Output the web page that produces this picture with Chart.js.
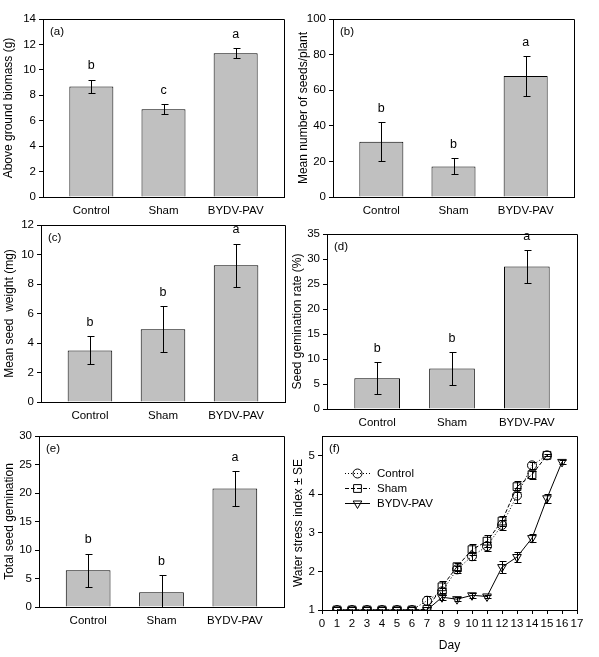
<!DOCTYPE html>
<html>
<head>
<meta charset="utf-8">
<script src="https://cdn.jsdelivr.net/npm/chart.js@4.4.0/dist/chart.umd.min.js"></script>
<style>
  body { margin: 0; background: #fff; width: 599px; height: 657px; position: relative; overflow: hidden; }
  canvas { position: absolute; }
</style>
</head>
<body>
<script>
// treatment groups
const groups = ["Control", "Sham", "BYDV-PAV"];

// (a) above ground biomass
const biomass = [8.7, 6.9, 11.3];
const biomassErr = [0.5, 0.4, 0.4];
const biomassLetters = ["b", "c", "a"];

// (b) seeds per plant
const seeds = [31, 17.2, 68];
const seedsErr = [11, 4.5, 11];
const seedsLetters = ["b", "b", "a"];

// (c) mean seed weight
const seedWeight = [3.5, 4.93, 9.27];
const seedWeightErr = [0.95, 1.57, 1.46];
const seedWeightLetters = ["b", "b", "a"];

// (d) germination rate
const germRate = [6.15, 8.1, 28.5];
const germRateErr = [3.2, 3.25, 3.25];
const germRateLetters = ["b", "b", "a"];

// (e) total germination
const germTotal = [6.45, 2.6, 20.8];
const germTotalErr = [2.9, 3.0, 3.0];
const germTotalLetters = ["b", "b", "a"];

// (f) water stress index by day
const days = [1, 2, 3, 4, 5, 6, 7, 8, 9, 10, 11, 12, 13, 14, 15, 16];
const controlWSI = [1, 1, 1, 1, 1, 1, 1.24, 1.48, 2.05, 2.39, 2.65, 3.2, 3.96, 4.74, 5.0];
const controlSE = [0, 0, 0, 0, 0, 0, 0.12, 0.1, 0.1, 0.1, 0.12, 0.12, 0.2, 0.1, 0];
const shamWSI = [1, 1, 1, 1, 1, 1, 1.02, 1.6, 2.12, 2.56, 2.78, 3.3, 4.19, 4.5, 5.0];
const shamSE = [0, 0, 0, 0, 0, 0, 0.05, 0.15, 0.1, 0.15, 0.15, 0.12, 0.15, 0.1, 0.03];
const bydvWSI = [1, 1, 1, 1, 1, 1, 1, 1.33, 1.28, 1.38, 1.35, 2.11, 2.37, 2.86, 3.89, 4.83];
const bydvSE = [0, 0, 0, 0, 0, 0, 0, 0.06, 0.06, 0.06, 0.05, 0.15, 0.12, 0.1, 0.12, 0.06];
const dayTicks = [0, 1, 2, 3, 4, 5, 6, 7, 8, 9, 10, 11, 12, 13, 14, 15, 16, 17];
const wsiTicks = [1, 2, 3, 4, 5];

const FONT = '"Liberation Sans", Arial, sans-serif';
const tickFont = { family: FONT, size: 11.5 };
const titleFont = { family: FONT, size: 12, lineHeight: 1.2 };
const PAD_T = 10, PAD_R = 10;

//plot boxes (page pixels) and y title centre
const boxes = {
  a: { L: 43, T: 19, R: 284, B: 197, tx: 8 },
  b: { L: 333, T: 19, R: 574, B: 197, tx: 303 },
  c: { L: 41, T: 225, R: 285, B: 402, tx: 9 },
  d: { L: 327, T: 234, R: 577, B: 409, tx: 297 },
  e: { L: 39, T: 436, R: 284, B: 607, tx: 9 },
  f: { L: 322, T: 436, R: 577, B: 610, tx: 298 },
};

function place(box, xH) {
  const c = document.createElement("canvas");
  const left = Math.round(box.tx - 7);
  const w = box.R - left + PAD_R;
  const h = box.B - box.T + PAD_T + xH;
  c.width = w; c.height = h;
  c.style.left = left + "px";
  c.style.top = (box.T - PAD_T) + "px";
  c.style.width = w + "px";
  c.style.height = h + "px";
  document.body.appendChild(c);
  return { canvas: c, yW: box.L - left };
}

//top + right frame lines
const frame = {
  id: "frame",
  afterDraw(chart) {
    const { ctx, chartArea: a } = chart;
    const l = Math.round(a.left - 0.5) + 0.5, t = Math.round(a.top - 0.5) + 0.5;
    const r = Math.round(a.right - 0.5) + 0.5, b = Math.round(a.bottom - 0.5) + 0.5;
    ctx.save();
    ctx.strokeStyle = "#000";
    ctx.lineWidth = 1;
    ctx.beginPath();
    ctx.moveTo(l, t); ctx.lineTo(r, t); ctx.lineTo(r, b);
    ctx.stroke();
    ctx.fillStyle = "#000";
    ctx.font = "11.5px " + FONT;
    ctx.textAlign = "left";
    ctx.textBaseline = "middle";
    ctx.fillText(chart.options.plugins.frame.tag, a.left + 7, a.top + 13);
    ctx.restore();
  },
};

//error bars (+ letters on bar panels)
const errbars = {
  id: "errbars",
  afterDatasetsDraw(chart) {
    const o = chart.options.plugins.errbars;
    const { ctx } = chart;
    const ys = chart.scales.y;
    ctx.save();
    ctx.strokeStyle = "#000";
    ctx.lineWidth = 1;
    chart.data.datasets.forEach((ds, di) => {
      const errs = o.errors[di];
      const meta = chart.getDatasetMeta(di);
      meta.data.forEach((el, i) => {
        const v = ds.data[i].y, e = errs[i];
        if (!e) return;
        const x = Math.round(el.x) + 0.5;
        const top = Math.round(ys.getPixelForValue(v + e)) + 0.5;
        const bot = Math.round(ys.getPixelForValue(Math.max(v - e, ys.min))) + 0.5;
        ctx.beginPath();
        ctx.moveTo(x, top); ctx.lineTo(x, bot);
        ctx.moveTo(x - 3, top); ctx.lineTo(x + 4, top);
        if (v - e > ys.min) { ctx.moveTo(x - 3, bot); ctx.lineTo(x + 4, bot); }
        ctx.stroke();
      });
    });
    if (o.letters) {
      const ds = chart.data.datasets[0];
      const meta = chart.getDatasetMeta(0);
      ctx.fillStyle = "#000";
      ctx.font = "12.5px " + FONT;
      ctx.textAlign = "center";
      ctx.textBaseline = "middle";
      meta.data.forEach((el, i) => {
        const y = ys.getPixelForValue(ds.data[i].y + o.errors[0][i]) - 14;
        ctx.fillText(o.letters[i], el.x, y);
      });
    }
    ctx.restore();
  },
};

function barPanel(key, tag, values, errs, letters, yTitle, yMax, yStep) {
  const box = boxes[key];
  const xH = 24;
  const p = place(box, xH);
  new Chart(p.canvas, {
    type: "bar",
    plugins: [frame, errbars],
    data: {
      datasets: [{
        data: values.map((v, i) => ({ x: i, y: v })),
        backgroundColor: "#c0c0c0",
        borderColor: "#000",
        borderWidth: 1,
        barPercentage: 0.61,
        categoryPercentage: 1,
      }],
    },
    options: {
      responsive: false,
      animation: false,
      layout: { padding: { top: PAD_T, right: PAD_R, left: 0, bottom: 0 } },
      plugins: {
        legend: { display: false },
        tooltip: { enabled: false },
        frame: { tag: tag },
        errbars: { errors: [errs], letters: letters },
      },
      scales: {
        x: {
          type: "linear",
          offset: false,
          min: -0.67,
          max: 2.67,
          afterBuildTicks: (s) => { s.ticks = [0, 1, 2].map((v) => ({ value: v })); },
          afterFit: (s) => { s.height = xH; },
          grid: { drawOnChartArea: false, drawTicks: false },
          border: { color: "#000", width: 1 },
          ticks: { callback: (v) => groups[v], color: "#000", font: tickFont, padding: 7, maxRotation: 0, autoSkip: false },
        },
        y: {
          min: 0,
          max: yMax,
          afterFit: (s) => { s.width = p.yW; },
          grid: { drawOnChartArea: false, tickLength: 4, color: "#000" },
          border: { color: "#000", width: 1 },
          ticks: { stepSize: yStep, color: "#000", font: tickFont, padding: 3 },
          title: { display: true, text: yTitle, color: "#000", font: titleFont, padding: { top: 0, bottom: 0 } },
        },
      },
    },
  });
}

barPanel("a", "(a)", biomass, biomassErr, biomassLetters, "Above ground biomass (g)", 14, 2);
barPanel("b", "(b)", seeds, seedsErr, seedsLetters, "Mean number of seeds/plant", 100, 20);
barPanel("c", "(c)", seedWeight, seedWeightErr, seedWeightLetters, "Mean seed  weight (mg)", 12, 2);
barPanel("d", "(d)", germRate, germRateErr, germRateLetters, "Seed gemination rate (%)", 35, 5);
barPanel("e", "(e)", germTotal, germTotalErr, germTotalLetters, "Total seed gemination", 30, 5);

// (f) line panel
const seriesNames = ["Control", "Sham", "BYDV-PAV"];
const seriesStyle = [
  { dash: [1, 2], point: "circle", radius: 4.5 },
  { dash: [4, 2], point: "rect", radius: 5.5 },
  { dash: [], point: "triangle", radius: 5 },
];

function marker(ctx, kind, x, y) {
  ctx.beginPath();
  if (kind === "circle") {
    ctx.arc(x, y, 4.5, 0, Math.PI * 2);
  } else if (kind === "rect") {
    ctx.rect(x - 3.9, y - 3.9, 7.8, 7.8);
  } else {
    ctx.moveTo(x - 4.3, y - 2.5); ctx.lineTo(x + 4.3, y - 2.5); ctx.lineTo(x, y + 5); ctx.closePath();
  }
  ctx.stroke();
}

const wsiLegend = {
  id: "wsiLegend",
  afterDraw(chart) {
    const { ctx, chartArea: a } = chart;
    ctx.save();
    ctx.strokeStyle = "#000";
    ctx.fillStyle = "#000";
    ctx.lineWidth = 1;
    ctx.font = "11.5px " + FONT;
    ctx.textBaseline = "middle";
    seriesNames.forEach((name, i) => {
      const y = Math.round(a.top + 37 + i * 15) + 0.5;
      const x0 = a.left + 23, x1 = a.left + 48, xm = a.left + 35.5;
      ctx.setLineDash(seriesStyle[i].dash);
      ctx.beginPath(); ctx.moveTo(x0, y); ctx.lineTo(x1, y); ctx.stroke();
      ctx.setLineDash([]);
      marker(ctx, seriesStyle[i].point, xm, y);
      ctx.fillText(name, a.left + 55, y);
    });
    ctx.restore();
  },
};

(function () {
  const box = boxes.f;
  const xH = 43;
  const p = place(box, xH);
  const ys = [controlWSI, shamWSI, bydvWSI];
  const es = [controlSE, shamSE, bydvSE];
  new Chart(p.canvas, {
    type: "line",
    plugins: [frame, errbars, wsiLegend],
    data: {
      datasets: ys.map((vals, i) => ({
        label: seriesNames[i],
        data: vals.map((v, j) => ({ x: days[j], y: v })),
        borderColor: "#000",
        borderWidth: 1,
        borderDash: seriesStyle[i].dash,
        pointStyle: seriesStyle[i].point,
        pointRadius: seriesStyle[i].radius,
        pointRotation: i === 2 ? 180 : 0,
        pointBorderColor: "#000",
        pointBorderWidth: 1,
        pointBackgroundColor: "rgba(0,0,0,0)",
        tension: 0,
        fill: false,
      })),
    },
    options: {
      responsive: false,
      animation: false,
      layout: { padding: { top: PAD_T, right: PAD_R, left: 0, bottom: 0 } },
      plugins: {
        legend: { display: false },
        tooltip: { enabled: false },
        frame: { tag: "(f)" },
        errbars: { errors: es },
      },
      scales: {
        x: {
          type: "linear",
          min: 0,
          max: 17,
          afterBuildTicks: (s) => { s.ticks = dayTicks.map((v) => ({ value: v })); },
          afterFit: (s) => { s.height = xH; },
          grid: { drawOnChartArea: false, tickLength: 4, color: "#000" },
          border: { color: "#000", width: 1 },
          ticks: { color: "#000", font: tickFont, padding: 3, maxRotation: 0, autoSkip: false },
          title: { display: true, text: "Day", color: "#000", font: titleFont, padding: { top: 0, bottom: 0 } },
        },
        y: {
          min: 1,
          max: 5.5,
          afterBuildTicks: (s) => { s.ticks = wsiTicks.map((v) => ({ value: v })); },
          afterFit: (s) => { s.width = p.yW; },
          grid: { drawOnChartArea: false, tickLength: 4, color: "#000" },
          border: { color: "#000", width: 1 },
          ticks: { color: "#000", font: tickFont, padding: 3 },
          title: { display: true, text: "Water stress index ± SE", color: "#000", font: titleFont, padding: { top: 0, bottom: 0 } },
        },
      },
    },
  });
})();
</script>
</body>
</html>
